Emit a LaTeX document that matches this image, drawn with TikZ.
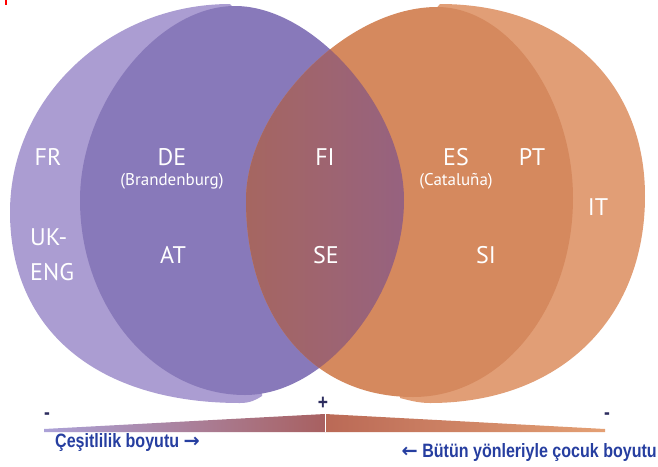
\documentclass[tikz,border=0pt]{standalone}
\usepackage{fontspec}
\setmainfont{PT Sans}
\newfontfamily\axisfont[FakeStretch=0.83]{Liberation Sans}
\newfontfamily\arrowfont{DejaVu Sans}
\usetikzlibrary{positioning}

\definecolor{lilacside}{RGB}{171,157,210}
\definecolor{violetface}{RGB}{136,121,186}
\definecolor{peachside}{RGB}{225,158,118}
\definecolor{amberface}{RGB}{213,137,94}
\definecolor{mixleft}{RGB}{166,102,96}
\definecolor{mixright}{RGB}{150,98,128}
\definecolor{axisblue}{RGB}{38,62,160}
\definecolor{polenavy}{RGB}{45,45,95}

\begin{document}
\begin{tikzpicture}[x=0.03cm,y=-0.03cm,
    country/.style={text=white,inner sep=0pt,font=\fontsize{20.5}{22}\selectfont},
    subregion/.style={text=white,inner sep=0pt,font=\fontsize{14.5}{16}\selectfont},
    pole/.style={text=polenavy,inner sep=0pt,font=\axisfont\bfseries\fontsize{18}{18}\selectfont},
    axislabel/.style={text=axisblue,inner sep=0pt,font=\axisfont\bfseries\fontsize{16.5}{17}\selectfont}
  ]
    \useasboundingbox (0,0) rectangle (658,466);
    \fill[white] (0,0) rectangle (658,466);
    \fill[red] (5,0) rectangle (7,5);

    % left disc: rim, then face
    \fill[lilacside] (230,4) .. controls (109,4) and (10,98) .. (10,212)
      .. controls (10,330) and (97,403) .. (240,403)
      .. controls (250,403) and (256,400) .. (262,396) -- (262,300) -- (255,30) -- cycle;
    \fill[violetface] (235,6) .. controls (314,6) and (404,109) .. (404,200)
      .. controls (404,297) and (325,395) .. (245,395)
      .. controls (154,395) and (80,307) .. (80,200)
      .. controls (80,103) and (158,6) .. (235,6) -- cycle;

    % right disc: rim, then face
    \fill[peachside] (440,4) .. controls (563,4) and (645,81) .. (645,196)
      .. controls (645,320) and (559,403) .. (430,403)
      .. controls (418,403) and (408,400) .. (400,398) -- (412,300) -- (418,30) -- cycle;
    \fill[amberface] (437,7) .. controls (510,7) and (573,100) .. (573,198)
      .. controls (573,307) and (503,397) .. (413,397)
      .. controls (313,397) and (246,318) .. (246,200)
      .. controls (246,109) and (347,7) .. (437,7) -- cycle;

    % where the faces overlap
    \begin{scope}
      \clip (235,6) .. controls (314,6) and (404,109) .. (404,200)
        .. controls (404,297) and (325,395) .. (245,395)
        .. controls (154,395) and (80,307) .. (80,200)
        .. controls (80,103) and (158,6) .. (235,6) -- cycle;
      \clip (437,7) .. controls (510,7) and (573,100) .. (573,198)
        .. controls (573,307) and (503,397) .. (413,397)
        .. controls (313,397) and (246,318) .. (246,200)
        .. controls (246,109) and (347,7) .. (437,7) -- cycle;
      \shade[left color=mixleft,right color=mixright] (244,0) rectangle (406,420);
    \end{scope}

    % scale bar
    \shade[left color={rgb,255:red,172;green,162;blue,216},middle color={rgb,255:red,140;green,115;blue,180},right color={rgb,255:red,168;green,96;blue,96}] (44,429) -- (325,414) -- (325,432) -- (44,432) -- cycle;
    \shade[left color={rgb,255:red,186;green,105;blue,86},middle color={rgb,255:red,210;green,130;blue,86},right color={rgb,255:red,228;green,160;blue,116}] (325,414) -- (605,429) -- (605,432) -- (325,432) -- cycle;
    \draw[white,line width=0.8pt] (325,414) -- (325,432);

    \node[country] (fr) at (48,157) {FR};
    \node[country] (de) at (172,157) {DE};
    \node[subregion,below=6pt of de] (brb) {(Brandenburg)};
    \node[country,anchor=west] (uk) at (30,237) {UK-};
    \node[country,below=15pt of uk.south west,anchor=north west] (eng) {ENG};
    \node[country] (at) at (173,255) {AT};
    \node[country] (fi) at (325,157) {FI};
    \node[country] (se) at (326,255) {SE};
    \node[country] (es) at (456,157) {ES};
    \node[subregion,below=6pt of es] (cat) {(Cataluña)};
    \node[country] (pt) at (532,157) {PT};
    \node[country] (it) at (598,207) {IT};
    \node[country] (si) at (486,255) {SI};

    \node[pole] (more) at (323,403) {+};
    \node[pole] (lessl) at (47,416) {-};
    \node[pole] (lessr) at (607,416) {-};
    \node[axislabel,anchor=west] (diverse) at (55,442) {Çeşitlilik boyutu {\arrowfont→}};
    \node[axislabel,anchor=east] (whole) at (657,452) {{\arrowfont←} Bütün yönleriyle çocuk boyutu};
  \end{tikzpicture}
\end{document}
